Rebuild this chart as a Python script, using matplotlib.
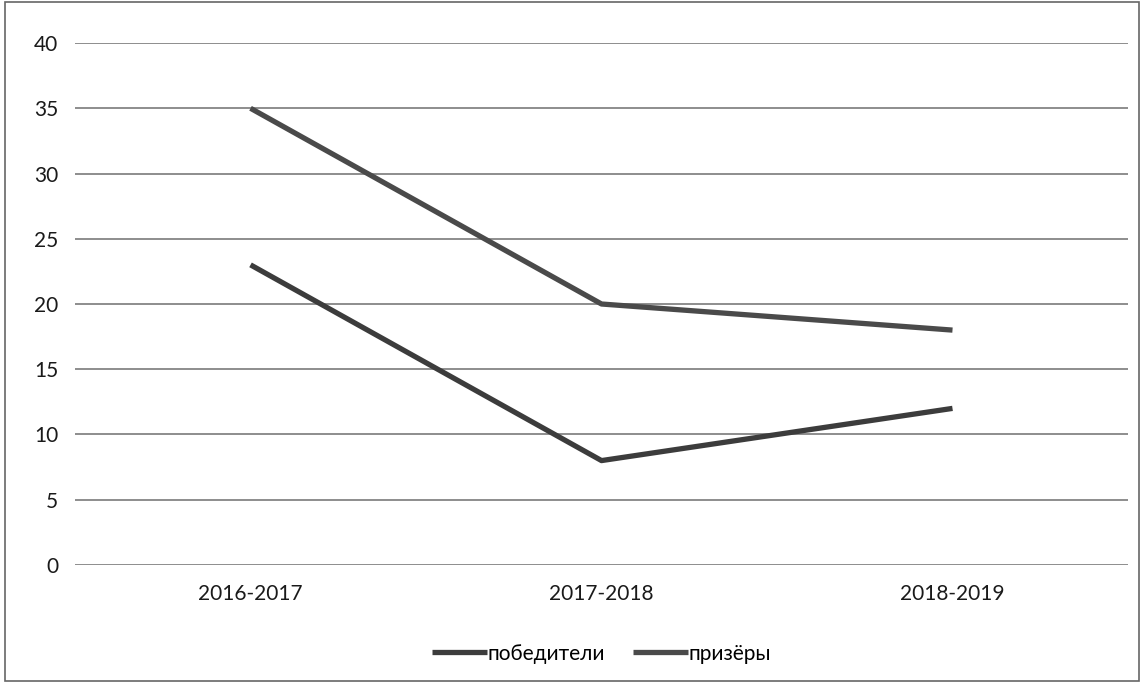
import matplotlib.pyplot as plt
from matplotlib.patches import Rectangle

plt.rcParams['font.family'] = ['Lato', 'DejaVu Sans']

years = ["2016-2017", "2017-2018", "2018-2019"]
pobediteli = [23, 8, 12]
prizery = [35, 20, 18]
y_ticks = [0, 5, 10, 15, 20, 25, 30, 35, 40]

fig = plt.figure(figsize=(11.44, 6.83), dpi=100)
ax = fig.add_axes([0.0656, 0.1728, 0.9204, 0.7642])

x = list(range(len(years)))
ax.plot(x, pobediteli, color="#3c3c3c", lw=3.8, solid_capstyle="butt", label="победители", zorder=3)
ax.plot(x, prizery, color="#4a4a4a", lw=3.8, solid_capstyle="butt", label="призёры", zorder=3)

ax.set_xlim(-0.5, 2.5)
ax.set_ylim(0, 40)
ax.set_yticks(y_ticks)
ax.set_xticks(x)
ax.set_xticklabels(years)
ax.grid(axis="y", color="#7a7a7a", lw=1.2)
ax.set_axisbelow(True)
for s in ax.spines.values():
    s.set_visible(False)
ax.tick_params(axis="both", length=0, labelsize=15, colors="#1a1a1a")
ax.tick_params(axis="y", pad=12)
ax.tick_params(axis="x", pad=14)

leg = ax.legend(loc="upper center", bbox_to_anchor=(0.5, -0.115), ncol=2, frameon=False,
                fontsize=15, handlelength=2.65, handletextpad=0.05, columnspacing=1.3)

fig.patches.append(Rectangle((0.004, 0.003), 0.992, 0.994, transform=fig.transFigure,
                             fill=False, edgecolor="#666666", lw=1.2))

fig.savefig("out.png", dpi=100)
